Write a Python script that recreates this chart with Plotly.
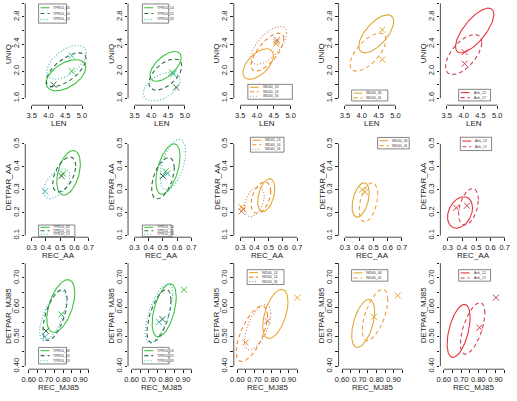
import numpy as np
import plotly.graph_objects as go

W, H = 517, 401

# ---------------- data ----------------
X_TITLES = ["LEN", "REC_AA", "REC_MJ85"]
Y_TITLES = ["UNIQ", "DETPAR_AA", "DETPAR_MJ85"]

X_TICKS = [[3.5, 4.0, 4.5, 5.0],
           [0.3, 0.4, 0.5, 0.6, 0.7],
           [0.60, 0.65, 0.70, 0.75, 0.80, 0.85, 0.90, 0.95]]
X_TICKTEXT = [["3.5", "4.0", "4.5", "5.0"],
              ["0.3", "0.4", "0.5", "0.6", "0.7"],
              ["0.60", "", "0.70", "", "0.80", "", "0.90", ""]]
Y_TICKS = [[1.6, 1.8, 2.0, 2.2, 2.4, 2.6, 2.8, 3.0],
           [0.1, 0.2, 0.3, 0.4, 0.5],
           [0.40, 0.45, 0.50, 0.55, 0.60, 0.65, 0.70, 0.75]]
Y_TICKTEXT = [["1.6", "", "2.0", "", "2.4", "", "2.8", ""],
              ["0.1", "0.2", "0.3", "0.4", "0.5"],
              ["0.40", "", "0.50", "", "0.60", "", "0.70", ""]]

SERIES = [["TPR10_03", "TPR10_10", "TPR10_13"],
          ["TPR10_14", "TPR10_25", "TPR10_33"],
          ["WD40_13", "WD40_14", "WD40_16"],
          ["WD40_34", "WD40_41"],
          ["Ank_12", "Ank_17"]]
COLORS = [["#3DC43D", "#2F6B45", "#3FB5B5"],
          ["#3DC43D", "#2F6B45", "#3FB5B5"],
          ["#E8A830", "#F08A2C", "#C8806A"],
          ["#DDAA33", "#F0A040"],
          ["#E8323C", "#CC4455"]]
DASHES = ["solid", "4px,3px", "1px,2px"]

# contour outlines: (xmin, xmax, ymin, ymax, rho) per series, per column
CONTOUR_LEN_UNIQ = [
    [(3.93, 5.11, 1.71, 2.17, 0.50), (3.93, 5.12, 1.77, 2.27, 0.65), (3.95, 5.12, 1.88, 2.38, 0.55)],
    [(3.96, 4.89, 1.85, 2.29, 0.60), (3.93, 4.91, 1.72, 2.18, 0.55), (3.76, 4.86, 1.56, 1.98, 0.45)],
    [(3.58, 4.49, 1.88, 2.33, 0.55), (3.82, 4.80, 2.00, 2.56, 0.70), (3.82, 4.88, 2.10, 2.66, 0.65)],
    [(3.91, 4.95, 2.27, 2.83, 0.65), (3.65, 4.72, 2.00, 2.56, 0.65)],
    [(3.76, 4.90, 2.27, 2.93, 0.72), (3.46, 4.54, 1.95, 2.54, 0.60)],
]
CONTOUR_AA = [
    [(0.476, 0.642, 0.276, 0.471, 0.40), (0.448, 0.610, 0.290, 0.442, 0.50), (0.383, 0.569, 0.261, 0.391, 0.50)],
    [(0.450, 0.620, 0.280, 0.500, 0.50), (0.420, 0.580, 0.260, 0.440, 0.50), (0.480, 0.660, 0.300, 0.520, 0.50)],
    [(0.423, 0.543, 0.204, 0.348, 0.40), (0.376, 0.515, 0.197, 0.334, 0.40), (0.330, 0.469, 0.182, 0.312, 0.40)],
    [(0.350, 0.470, 0.180, 0.330, 0.40), (0.400, 0.530, 0.160, 0.330, 0.40)],
    [(0.298, 0.474, 0.132, 0.269, 0.30), (0.376, 0.515, 0.146, 0.305, 0.40)],
]
CONTOUR_MJ85 = [
    [(0.705, 0.868, 0.515, 0.694, 0.50), (0.682, 0.824, 0.487, 0.661, 0.60), (0.663, 0.820, 0.487, 0.655, 0.65)],
    [(0.720, 0.860, 0.500, 0.680, 0.50), (0.690, 0.830, 0.480, 0.660, 0.60), (0.680, 0.840, 0.480, 0.680, 0.65)],
    [(0.748, 0.895, 0.494, 0.661, 0.50), (0.594, 0.776, 0.416, 0.605, 0.65), (0.642, 0.795, 0.456, 0.610, 0.60)],
    [(0.656, 0.790, 0.464, 0.627, 0.50), (0.717, 0.866, 0.487, 0.661, 0.60)],
    [(0.619, 0.753, 0.430, 0.610, 0.50), (0.696, 0.839, 0.441, 0.616, 0.60)],
]
CONTOURS = [CONTOUR_LEN_UNIQ, CONTOUR_AA, CONTOUR_MJ85]

# sample points (x marks), per series, per column
POINTS_LEN_UNIQ = [
    [(4.69, 2.00), (4.15, 1.80), (4.69, 2.23)],
    [(4.62, 1.98), (4.74, 1.76), (4.66, 1.96)],
    [(4.57, 2.40), (4.58, 2.43), (4.59, 2.46)],
    [(4.61, 2.61), (4.61, 2.17)],
    [(4.03, 2.28), (4.03, 2.11)],
]
POINTS_AA = [
    [(0.52, 0.37), (0.51, 0.36), (0.395, 0.293)],
    [(0.52, 0.38), (0.50, 0.36), (0.53, 0.37)],
    [(0.31, 0.225), (0.32, 0.215), (0.31, 0.205)],
    [(0.42, 0.30), (0.44, 0.29)],
    [(0.36, 0.221), (0.434, 0.23)],
]
POINTS_MJ85 = [
    [(0.79, 0.576), (0.70, 0.52), (0.695, 0.50)],
    [(0.905, 0.66), (0.78, 0.56), (0.76, 0.55)],
    [(0.949, 0.633), (0.648, 0.481), (0.776, 0.554)],
    [(0.786, 0.568), (0.924, 0.640)],
    [(0.807, 0.531), (0.903, 0.633)],
]
POINTS = [POINTS_LEN_UNIQ, POINTS_AA, POINTS_MJ85]

# ---------------- layout geometry (pixels) ----------------
YAXIS_PX = [21.5, 125.5, 232.5, 338.5, 441.5]       # left edge of plot region per column
PLOT_W = 68
ROW_FIRST_XTICK_PX = [[28, 132, 239, 345, 448], [28, 132, 239, 345, 449], [25, 129, 236, 342, 445]]
ROW_X_PPU = [34.0, 144.0, 174.0]
ROW_Y_REF = [(1.6, 99.0), (0.1, 237.3), (0.40, 369.0)]
ROW_Y_PPU = [68.3, 231.0, 296.7]
ROW_BOTTOM = [106, 239, 372]
ROW_TOP = [2, 136, 264]

LEGEND_BOX = [
    [(35, 4, 63.3, 23.3), (140, 4, 166.7, 23.3), (246.7, 85, 291.7, 100), (351.7, 90.7, 388.3, 101.7), (460, 90, 492.3, 101.7)],
    [(35, 226.7, 71.7, 238.3), (140, 226.7, 170, 238.3), (249.3, 138.3, 283.3, 153.3), (378, 138.5, 410, 150), (461.7, 138.3, 493.3, 151.7)],
    [(35, 350, 63.3, 366.7), (140, 350, 167, 366.7), (246, 271.7, 283.3, 286.7), (351.7, 271.7, 388.3, 283.3), (460, 271.7, 492.3, 283.3)],
]

FONT = "Liberation Sans, Arial, sans-serif"

fig = go.Figure()
layout = dict(width=W, height=H, margin=dict(l=0, r=0, t=0, b=0), autosize=False,
              plot_bgcolor="white", paper_bgcolor="white", showlegend=False)
shapes, annotations = [], []


def px2paper_x(px):
    return px / W


def px2paper_y(py):
    return 1 - py / H


t = np.linspace(0, 2 * np.pi, 160)
k = 0
for r in range(3):
    x_ppu, y_ppu = ROW_X_PPU[r], ROW_Y_PPU[r]
    y_ref_v, y_ref_px = ROW_Y_REF[r]
    x_ref_v = X_TICKS[r][0]
    for c in range(5):
        k += 1
        xa = "xaxis" if k == 1 else f"xaxis{k}"
        ya = "yaxis" if k == 1 else f"yaxis{k}"
        xr = "x" if k == 1 else f"x{k}"
        yr = "y" if k == 1 else f"y{k}"
        x0px = ROW_FIRST_XTICK_PX[r][c]
        left, right = YAXIS_PX[c], YAXIS_PX[c] + PLOT_W
        bottom, top = ROW_BOTTOM[r], ROW_TOP[r]

        def vx(px, x0px=x0px):
            return x_ref_v + (px - x0px) / x_ppu

        def vy(py):
            return y_ref_v + (y_ref_px - py) / y_ppu

        def pxx(v, x0px=x0px):
            return x0px + (v - x_ref_v) * x_ppu

        def pxy(v):
            return y_ref_px - (v - y_ref_v) * y_ppu

        layout[xa] = dict(domain=[px2paper_x(left), px2paper_x(right)], range=[vx(left), vx(right)],
                          anchor=yr, showgrid=False, zeroline=False, showline=False,
                          tickmode="array", tickvals=X_TICKS[r], ticktext=X_TICKTEXT[r],
                          ticks="outside", ticklen=2.5, tickwidth=0.8, tickcolor="#222", tickangle=0,
                          tickfont=dict(family=FONT, size=7.5, color="#222"), fixedrange=True)
        layout[ya] = dict(domain=[px2paper_y(bottom), px2paper_y(top)], range=[vy(bottom), vy(top)],
                          anchor=xr, showgrid=False, zeroline=False, showline=False,
                          tickmode="array", tickvals=Y_TICKS[r], ticktext=Y_TICKTEXT[r],
                          ticks="outside", ticklen=2.5, tickwidth=0.8, tickcolor="#222", tickangle=-90,
                          tickfont=dict(family=FONT, size=7.5, color="#222"), fixedrange=True)

        # axis lines spanning first..last tick (R style)
        shapes.append(dict(type="line", xref="paper", yref="paper",
                           x0=px2paper_x(pxx(X_TICKS[r][0])), x1=px2paper_x(pxx(X_TICKS[r][-1])),
                           y0=px2paper_y(bottom), y1=px2paper_y(bottom),
                           line=dict(color="#222", width=0.8)))
        shapes.append(dict(type="line", xref="paper", yref="paper",
                           x0=px2paper_x(left), x1=px2paper_x(left),
                           y0=px2paper_y(pxy(Y_TICKS[r][0])), y1=px2paper_y(pxy(Y_TICKS[r][-1])),
                           line=dict(color="#222", width=0.8)))
        # axis titles
        annotations.append(dict(text=X_TITLES[r], xref="paper", yref="paper",
                                x=px2paper_x((left + right) / 2), y=px2paper_y(bottom + 18.5),
                                showarrow=False, xanchor="center", yanchor="middle",
                                font=dict(family=FONT, size=8, color="#222")))
        annotations.append(dict(text=Y_TITLES[r], xref="paper", yref="paper",
                                x=px2paper_x(left - 17), y=px2paper_y((top + bottom) / 2),
                                showarrow=False, xanchor="center", yanchor="middle", textangle=-90,
                                font=dict(family=FONT, size=8, color="#222")))

        # contours and points
        for s, name in enumerate(SERIES[c]):
            xmin, xmax, ymin, ymax, rho = CONTOURS[r][c][s]
            cx, cy = (xmin + xmax) / 2, (ymin + ymax) / 2
            sx, sy = (xmax - xmin) / 2, (ymax - ymin) / 2
            d = np.arccos(rho)
            ex = cx + sx * np.cos(t)
            ey = cy + sy * np.cos(t - d)
            col = COLORS[c][s]
            fig.add_trace(go.Scatter(x=ex, y=ey, mode="lines", name=name, xaxis=xr, yaxis=yr,
                                     line=dict(color=col, width=1.1, dash=DASHES[s]),
                                     hoverinfo="skip"))
            px_, py_ = POINTS[r][c][s]
            fig.add_trace(go.Scatter(x=[px_], y=[py_], mode="markers", name=name, xaxis=xr, yaxis=yr,
                                     marker=dict(symbol="x-thin", size=6, color=col,
                                                 line=dict(color=col, width=1)),
                                     cliponaxis=False, hoverinfo="skip"))

        # legend box (R style)
        bx0, by0, bx1, by1 = LEGEND_BOX[r][c]
        shapes.append(dict(type="rect", xref="paper", yref="paper",
                           x0=px2paper_x(bx0), x1=px2paper_x(bx1), y0=px2paper_y(by0), y1=px2paper_y(by1),
                           line=dict(color="#333", width=0.6), fillcolor="white"))
        n = len(SERIES[c])
        step = (by1 - by0) / (n + 0.3)
        for s, name in enumerate(SERIES[c]):
            yy = by0 + step * (s + 0.65)
            shapes.append(dict(type="line", xref="paper", yref="paper",
                               x0=px2paper_x(bx0 + 2), x1=px2paper_x(bx0 + 11),
                               y0=px2paper_y(yy), y1=px2paper_y(yy),
                               line=dict(color=COLORS[c][s], width=1.1, dash=DASHES[s])))
            annotations.append(dict(text=name, xref="paper", yref="paper",
                                    x=px2paper_x(bx0 + 13), y=px2paper_y(yy),
                                    showarrow=False, xanchor="left", yanchor="middle",
                                    font=dict(family=FONT, size=3.5, color="#333")))

layout["shapes"] = shapes
layout["annotations"] = annotations
fig.update_layout(**layout)
fig.write_html("out.html")
